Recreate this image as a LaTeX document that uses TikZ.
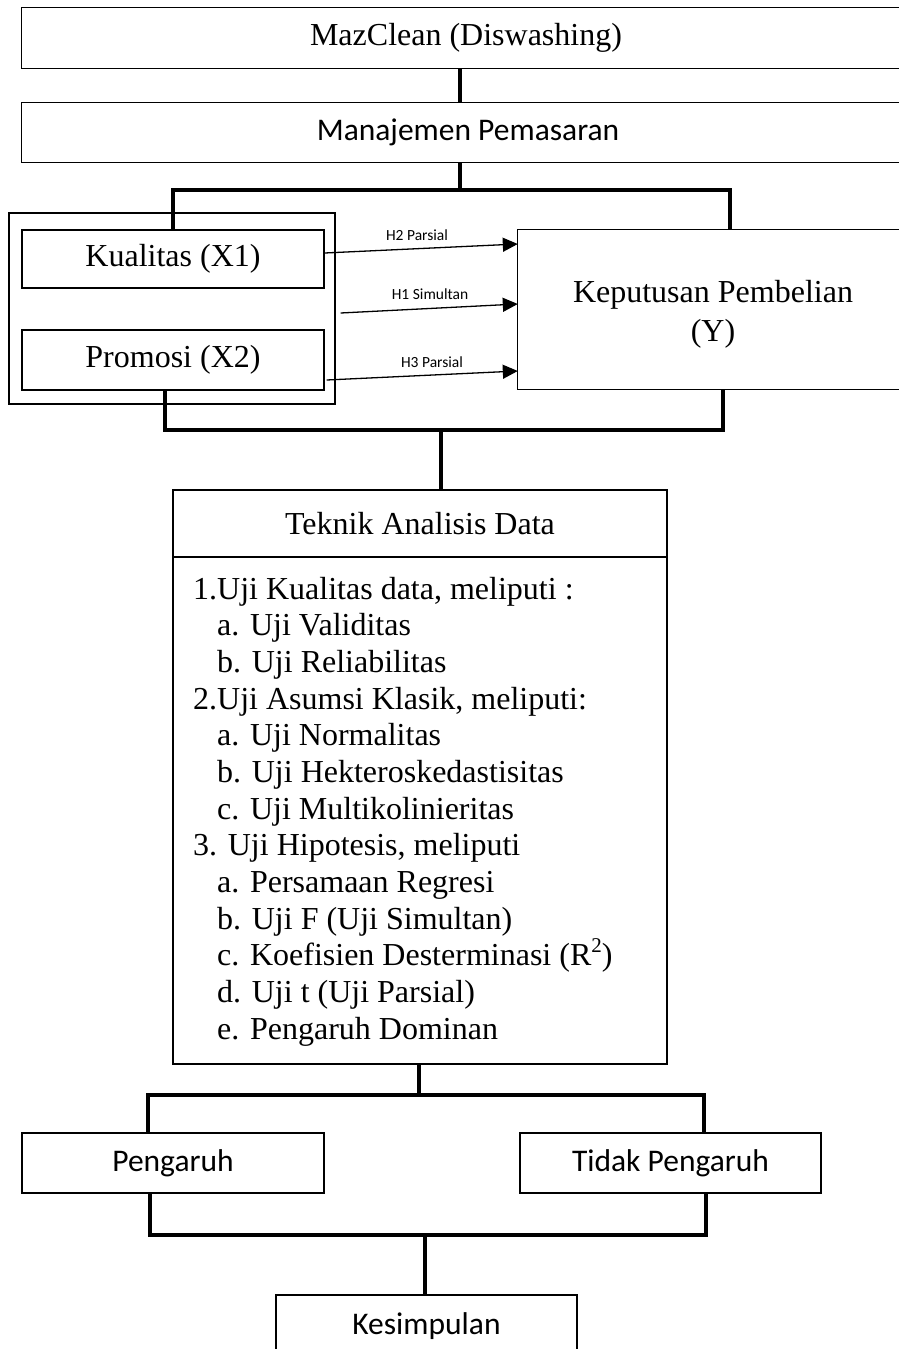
\documentclass[tikz,border=0pt]{standalone}
\usepackage{fontspec}
\setmainfont{Liberation Serif}
\newfontfamily\calfont{Carlito}
\usetikzlibrary{arrows.meta}

\tikzset{
  box/.style={draw, line width=1.3pt, inner sep=0pt, align=center},
  openbox/.style={inner sep=0pt, align=center},
  edge/.style={line width=1.3pt},
  bar/.style={line width=3.4pt},
  hyp/.style={line width=1.3pt, -{Triangle[length=15pt,width=14pt]}},
  serif/.style={font=\fontsize{32}{37}\selectfont},
  sans/.style={font=\calfont\fontsize{31.5}{37}\selectfont},
  hlabel/.style={font=\calfont\fontsize{15.5}{18}\selectfont},
}

\begin{document}
\begin{tikzpicture}[x=1pt,y=-1pt]
\useasboundingbox (0,0) rectangle (899,1349);

% top of the frame (boxes run off the right side)
\node[openbox, serif, minimum width=888pt, minimum height=60pt] (maz) at (466,38) {MazClean (Diswashing)};
\node[openbox, sans, minimum width=892pt, minimum height=59pt] (mgmt) at (468,132.5) {Manajemen Pemasaran};
\foreach \n in {maz,mgmt}
  \draw[edge] (\n.north east) -- (\n.north west) -- (\n.south west) -- (\n.south east);

% variables
\node[box, minimum width=326pt, minimum height=191pt] (group) at (172,308.5) {};
\node[box, serif, minimum width=302pt, minimum height=58pt] (kual) at (173,259) {Kualitas (X1)};
\node[box, serif, minimum width=302pt, minimum height=60pt] (prom) at (173,360) {Promosi (X2)};
\node[openbox, minimum width=390pt, minimum height=159pt] (kep) at (713,309.5) {};
\draw[edge] (kep.north east) -- (kep.north west) -- (kep.south west) -- (kep.south east);
\node[openbox, serif, font=\fontsize{32}{39}\selectfont] (keplab) at (713,314) {Keputusan Pembelian\\(Y)};

% hypotheses
\draw[hyp] ([yshift=6pt]kual.east) -- ([yshift=65.5pt]kep.west);
\draw[hyp] ([xshift=5pt,yshift=-4.5pt]group.east) -- ([yshift=5.5pt]kep.west);
\draw[hyp] ([xshift=2pt,yshift=-20pt]prom.east) -- ([yshift=-61.5pt]kep.west);
\node[hlabel] (h2lab) at (417,235) {H2 Parsial};
\node[hlabel] (h1lab) at (430,294) {H1 Simultan};
\node[hlabel] (h3lab) at (432,362) {H3 Parsial};

% analysis
\node[box, serif, minimum width=494pt, minimum height=67pt] (tekhead) at (420,523.5) {Teknik Analisis Data};
\node[box, minimum width=494pt, minimum height=507pt] (tekbody) at (420,810.5) {};
\foreach \ind/\txt [count=\i] in {
    0/{1.Uji Kualitas data, meliputi :},
    1/{a. Uji Validitas},
    1/{b. Uji Reliabilitas},
    0/{2.Uji Asumsi Klasik, meliputi:},
    1/{a. Uji Normalitas},
    1/{b. Uji Hekteroskedastisitas},
    1/{c. Uji Multikolinieritas},
    0/{3. Uji Hipotesis, meliputi},
    1/{a. Persamaan Regresi},
    1/{b. Uji F (Uji Simultan)},
    1/{c. Koefisien Desterminasi (R\raisebox{0.42em}{\fontsize{21}{21}\selectfont 2})},
    1/{d. Uji t (Uji Parsial)},
    1/{e. Pengaruh Dominan}}
  \node[serif, anchor=base west, inner sep=0pt] (item\i) at (193+24*\ind, 599+36.67*\i-36.67) {\txt};

% results
\node[box, sans, minimum width=302pt, minimum height=60pt] (peng) at (173,1163) {Pengaruh};
\node[box, sans, minimum width=301pt, minimum height=60pt] (tidak) at (670.5,1163) {Tidak Pengaruh};
\node[box, sans, minimum width=301pt, minimum height=62pt] (kes) at (426.5,1326) {Kesimpulan};

% connectors
\coordinate (jtop) at (460,190);
\coordinate (kepT) at ([xshift=17pt]kep.north);
\draw[bar] (jtop |- maz.south) -- (jtop |- mgmt.north);
\draw[bar] (jtop |- mgmt.south) -- (jtop);
\draw[bar] (kual.north) -- (kual.north |- jtop) -- (kepT |- jtop) -- (kepT);

\coordinate (jmid) at (441,430);
\coordinate (promB) at ([xshift=-8pt]prom.south);
\coordinate (kepB) at ([xshift=10pt]kep.south);
\draw[bar] (promB) -- (promB |- jmid) -- (kepB |- jmid) -- (kepB);
\draw[bar] (jmid) -- (jmid |- tekhead.north);

\coordinate (jlow) at (419,1095);
\coordinate (pengT) at ([xshift=-25pt]peng.north);
\coordinate (tidakT) at ([xshift=33.5pt]tidak.north);
\draw[bar] (jlow |- tekbody.south) -- (jlow);
\draw[bar] (pengT) -- (pengT |- jlow) -- (tidakT |- jlow) -- (tidakT);

\coordinate (jend) at (425,1235);
\coordinate (pengB) at ([xshift=-23pt]peng.south);
\coordinate (tidakB) at ([xshift=35.5pt]tidak.south);
\draw[bar] (pengB) -- (pengB |- jend) -- (tidakB |- jend) -- (tidakB);
\draw[bar] (jend) -- (jend |- kes.north);
\end{tikzpicture}
\end{document}
